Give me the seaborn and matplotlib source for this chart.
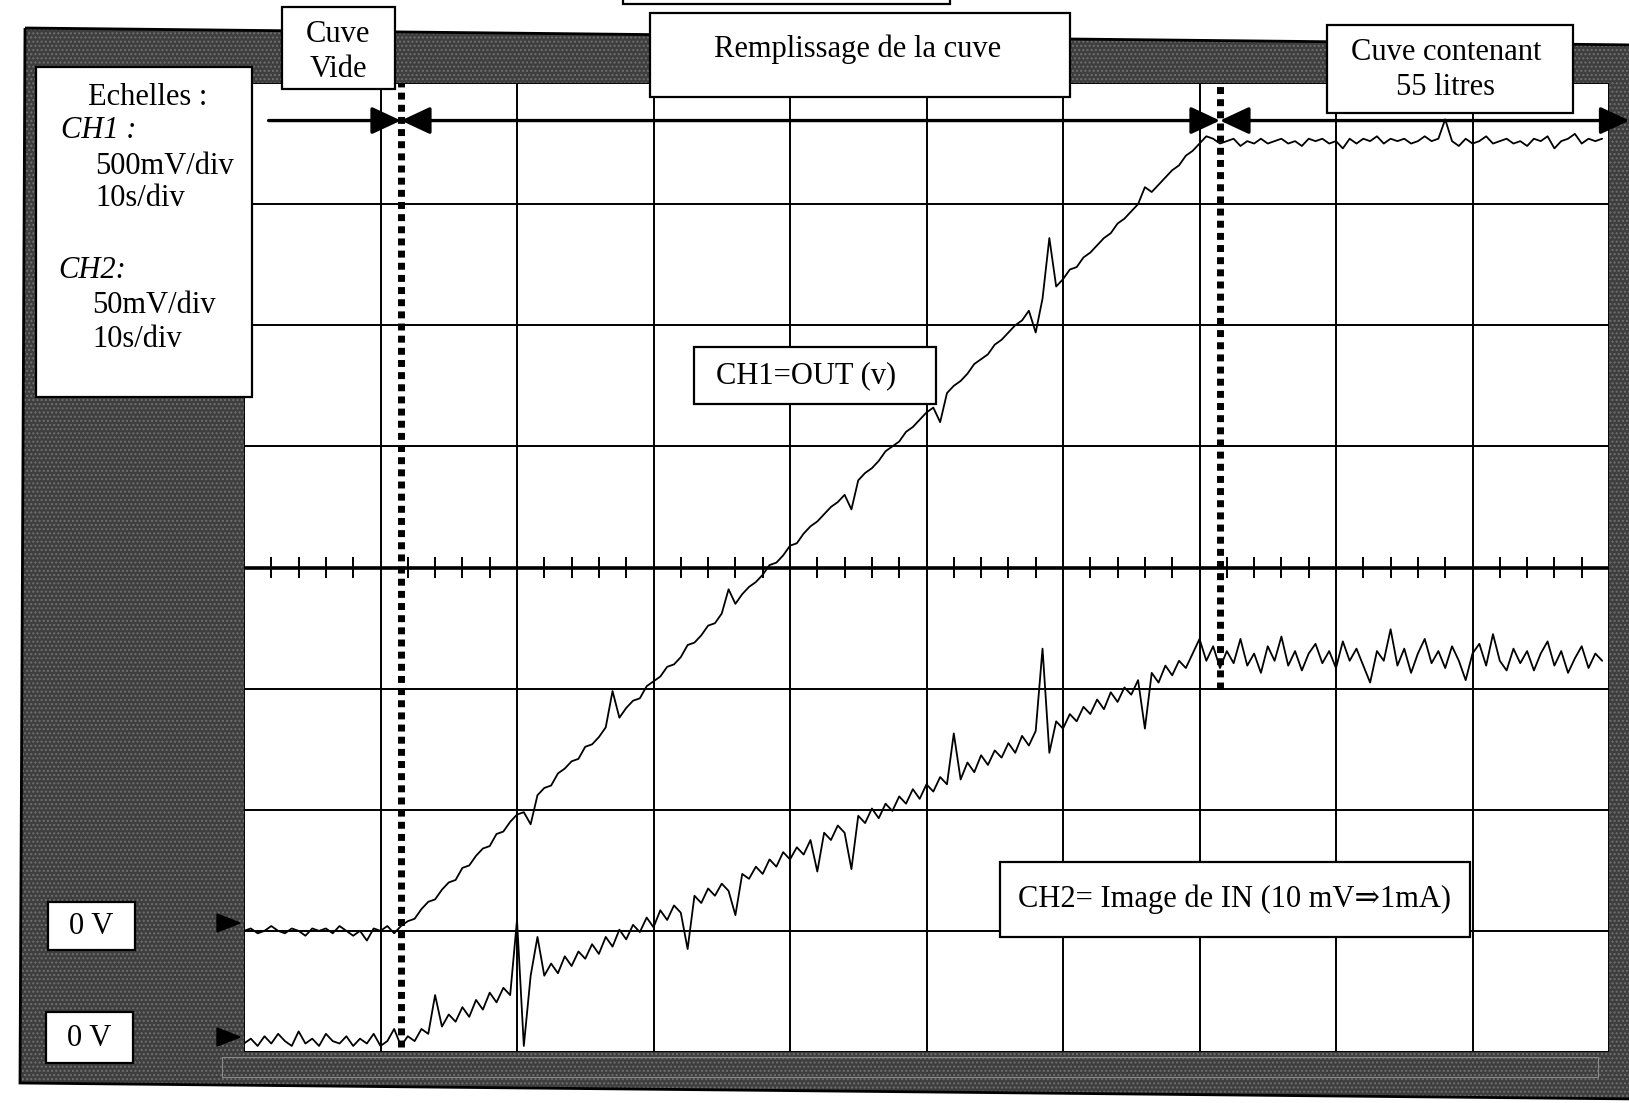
import numpy as np
import matplotlib
matplotlib.use('Agg')
from matplotlib import pyplot as plt
from matplotlib.patches import Rectangle, Polygon
import seaborn as sns

# oscilloscope capture : filling of the tank (10 s/div)
# CH1 = OUT (V), 500 mV/div ; CH2 = image of IN (mV), 50 mV/div
sample_step = 0.5  # s between two read points

ch1_volts = [
    0.00, 0.01, -0.01, 0.00, 0.02, 0.00, -0.01, 0.01, 0.00, -0.02,
    0.01, 0.00, 0.01, -0.01, 0.02, 0.00, -0.02, 0.00, -0.04, 0.01,
    0.00, 0.02, -0.01, 0.02, 0.04, 0.05, 0.09, 0.12, 0.13, 0.17,
    0.20, 0.21, 0.26, 0.27, 0.31, 0.34, 0.35, 0.40, 0.41, 0.45,
    0.48, 0.49, 0.44, 0.56, 0.59, 0.60, 0.65, 0.67, 0.70, 0.71,
    0.76, 0.77, 0.80, 0.84, 0.99, 0.88, 0.92, 0.95, 0.96, 1.01,
    1.03, 1.05, 1.09, 1.10, 1.13, 1.18, 1.19, 1.22, 1.26, 1.27,
    1.31, 1.41, 1.35, 1.39, 1.42, 1.44, 1.47, 1.51, 1.52, 1.55,
    1.59, 1.60, 1.64, 1.67, 1.69, 1.72, 1.75, 1.77, 1.80, 1.74,
    1.86, 1.89, 1.91, 1.94, 1.98, 2.00, 2.02, 2.06, 2.08, 2.11,
    2.14, 2.16, 2.10, 2.22, 2.25, 2.27, 2.30, 2.34, 2.36, 2.38,
    2.42, 2.44, 2.47, 2.50, 2.52, 2.56, 2.47, 2.61, 2.86, 2.66,
    2.69, 2.73, 2.74, 2.78, 2.80, 2.83, 2.86, 2.88, 2.92, 2.94,
    2.97, 3.00, 3.07, 3.05, 3.08, 3.11, 3.14, 3.16, 3.20, 3.22,
    3.25, 3.28, 3.27, 3.25, 3.26, 3.27, 3.24, 3.26, 3.25, 3.27,
    3.25, 3.26, 3.27, 3.25, 3.26, 3.24, 3.27, 3.26, 3.27, 3.25,
    3.26, 3.23, 3.27, 3.25, 3.27, 3.26, 3.28, 3.25, 3.27, 3.26,
    3.27, 3.25, 3.26, 3.28, 3.26, 3.27, 3.35, 3.26, 3.24, 3.27,
    3.25, 3.26, 3.28, 3.25, 3.26, 3.27, 3.25, 3.26, 3.24, 3.27,
    3.26, 3.28, 3.23, 3.26, 3.27, 3.29, 3.25, 3.27, 3.26, 3.27,
]

ch2_mv = [
    1, 3, 0, 4, 1, 5, 2, 0, 6, 1,
    3, 0, 5, 2, 1, 4, 0, 3, 1, 5,
    0, 2, 7, 0, 4, 2, 7, 5, 21, 8,
    13, 10, 16, 12, 19, 15, 22, 18, 24, 21,
    52, 0, 29, 45, 29, 34, 30, 37, 33, 39,
    36, 42, 38, 45, 41, 48, 44, 50, 47, 53,
    49, 56, 52, 58, 55, 40, 62, 59, 65, 62,
    67, 64, 54, 71, 69, 74, 71, 77, 74, 80,
    77, 82, 79, 85, 72, 88, 85, 91, 88, 73,
    95, 92, 98, 94, 100, 97, 103, 100, 106, 102,
    108, 105, 111, 108, 129, 110, 117, 113, 120, 116,
    122, 119, 125, 121, 128, 124, 130, 164, 121, 134,
    131, 137, 134, 140, 137, 143, 139, 146, 142, 148,
    145, 151, 131, 154, 150, 157, 153, 159, 156, 162,
    168, 159, 165, 156, 163, 158, 168, 157, 162, 154,
    165, 159, 169, 157, 163, 155, 162, 166, 158, 163,
    156, 167, 159, 164, 157, 150, 163, 159, 172, 157,
    164, 154, 162, 168, 158, 163, 156, 165, 159, 151,
    162, 166, 157, 170, 159, 155, 164, 158, 163, 155,
    162, 167, 157, 163, 154, 160, 165, 156, 162, 159,
]

time_s = np.arange(len(ch1_volts)) * sample_step

start_empty = 11.5    # s, cuve vide
end_filling = 71.5    # s, cuve contenant 55 litres
arrow_level = 3.345   # V on CH1 scale

W, H = 1629, 1103


def fx(x):
    return x / W


def fy(y):
    return 1 - y / H


sns.set_theme(style='white')
plt.rcParams['font.family'] = ['Liberation Serif', 'DejaVu Serif']
plt.rcParams['hatch.linewidth'] = 1.0

fig = plt.figure(figsize=(W / 100, H / 100), dpi=100)

# grey screen frame of the scope software
frame = [(fx(25), fy(28)), (fx(1640), fy(45)), (fx(1640), fy(1099)), (fx(20), fy(1083))]
fig.add_artist(Polygon(frame, closed=True, transform=fig.transFigure, facecolor='#3e3e3e',
                       edgecolor='#707070', hatch='....', lw=0, zorder=-2))
fig.add_artist(Polygon(frame, closed=True, transform=fig.transFigure, fill=False,
                       edgecolor='black', lw=2, zorder=-1))
fig.add_artist(Rectangle((fx(222), fy(1077)), fx(1598 - 222), (1077 - 1057) / H, transform=fig.transFigure,
                         fill=False, edgecolor='#8a8a8a', lw=0.8, zorder=-1))

ax = fig.add_axes([fx(244), fy(1052), fx(1609 - 244), (1052 - 83) / H])
ax.set_facecolor('white')
ax.set_xlim(0, 100)
ax.set_ylim(-0.5, 3.5)
ax.set_xticks(np.arange(0, 101, 10))
ax.set_yticks(np.arange(-0.5, 3.51, 0.5))
ax.grid(True, color='black', lw=1.4)
ax.tick_params(length=0, labelbottom=False, labelleft=False)
for s in ax.spines.values():
    s.set_visible(False)

# centre graduation
ax.axhline(1.5, color='black', lw=2.6)
small_ticks = [x for x in np.arange(2, 100, 2) if x % 10 != 0]
ax.vlines(small_ticks, 1.5 - 0.042, 1.5 + 0.042, color='black', lw=1.4)

sns.lineplot(x=time_s, y=ch1_volts, ax=ax, color='black', linewidth=1.3, estimator=None, sort=False)

ax2 = ax.twinx()
ax2.set_ylim(-2.5, 397.5)
ax2.set_yticks([])
for s in ax2.spines.values():
    s.set_visible(False)
sns.lineplot(x=time_s, y=ch2_mv, ax=ax2, color='black', linewidth=1.3, estimator=None, sort=False)
ax2.set_xlim(0, 100)
ax2.set_xlabel('')
ax.set_xlabel('')

# dotted markers
ax.plot([start_empty, start_empty], [-0.48, 3.5], color='black', lw=5, ls=(0, (1, 0.75)),
        dash_capstyle='butt', zorder=4)
ax.plot([end_filling, end_filling], [1.0, 3.5], color='black', lw=5, ls=(0, (1, 0.75)),
        dash_capstyle='butt', zorder=4)

# phase arrows
arrow_style = '-|>,head_length=0.9,head_width=0.42'
both_style = '<|-|>,head_length=0.9,head_width=0.42'
common = dict(mutation_scale=20, lw=2.4, color='black', shrinkA=0, shrinkB=0, clip_on=False)
ax.annotate('', xy=(start_empty, arrow_level), xytext=(1.8, arrow_level),
            arrowprops=dict(arrowstyle=arrow_style, **common), annotation_clip=False)
ax.annotate('', xy=(end_filling, arrow_level), xytext=(start_empty, arrow_level),
            arrowprops=dict(arrowstyle=both_style, **common), annotation_clip=False)
ax.annotate('', xy=(101.5, arrow_level), xytext=(end_filling, arrow_level),
            arrowprops=dict(arrowstyle=both_style, **common), annotation_clip=False)


def box(x0, y0, x1, y1):
    fig.add_artist(Rectangle((fx(x0), fy(y1)), fx(x1 - x0), (y1 - y0) / H, transform=fig.transFigure,
                             facecolor='white', edgecolor='black', lw=1.6, zorder=5))


def label(x, y, s, ha='center', **kw):
    fig.text(fx(x), fy(y), s, ha=ha, va='center', fontsize=22, color='black', zorder=6,
             linespacing=1.3, **kw)


box(623, -10, 950, 4)
box(282, 7, 395, 89)
label(338, 52, 'Cuve\nVide')
box(650, 13, 1070, 97)
label(858, 49, 'Remplissage de la cuve')
box(1327, 25, 1573, 113)
label(1446, 70, 'Cuve contenant\n55 litres')

box(36, 67, 252, 397)
label(88, 97, 'Echelles :', ha='left')
label(61, 130, 'CH1 :', ha='left', style='italic')
label(95, 166, '500mV/div', ha='left')
label(95, 199, '10s/div', ha='left')
label(58, 271, 'CH2:', ha='left', style='italic')
label(92, 306, '50mV/div', ha='left')
label(92, 340, '10s/div', ha='left')

box(694, 347, 936, 404)
label(806, 376, 'CH1=OUT (v)')
box(1000, 862, 1470, 937)
label(1234, 899, 'CH2= Image de IN (10 mV\u21d21mA)')

box(48, 902, 135, 950)
label(91, 926, '0 V')
box(46, 1012, 133, 1063)
label(89, 1038, '0 V')

# zero level markers
for yz in (923, 1037):
    fig.add_artist(Polygon([(fx(217), fy(yz - 9)), (fx(240), fy(yz)), (fx(217), fy(yz + 9))],
                           transform=fig.transFigure, facecolor='black', edgecolor='black', zorder=3))

fig.savefig('out.png', dpi=100)
